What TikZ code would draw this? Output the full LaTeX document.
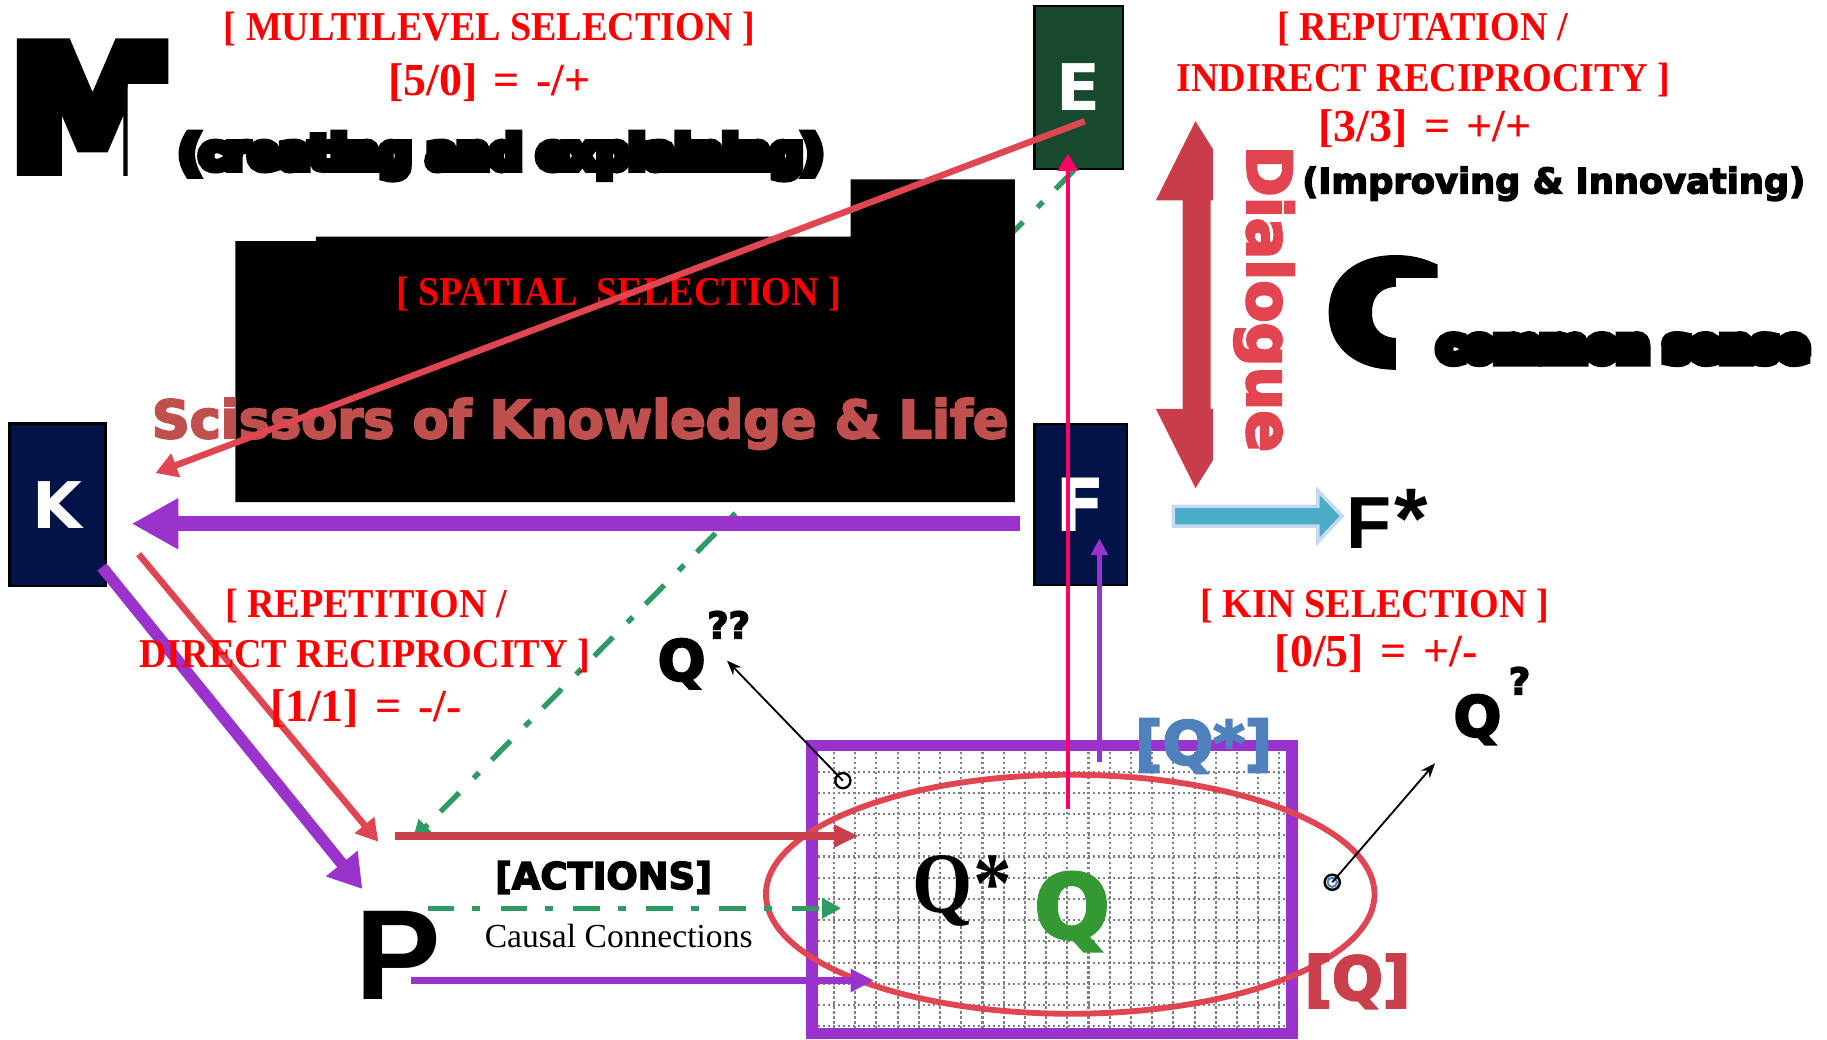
\documentclass[tikz,border=0pt]{standalone}
\usepackage{fontspec}
\usetikzlibrary{arrows.meta,shapes.geometric}
\setmainfont{Liberation Serif}
\newfontfamily\redserif[FakeStretch=0.93]{Liberation Serif}
\newfontfamily\redserifw{Liberation Serif}
\newfontfamily\plainserif{Liberation Serif}
\newfontfamily\qserif[FakeStretch=0.9]{Liberation Serif}
\newfontfamily\dvsans{DejaVu Sans}
\newfontfamily\dvheavy[FakeBold=4]{DejaVu Sans Bold}
\newfontfamily\libsans{Liberation Sans}
\newfontfamily\blobM[FakeBold=9]{DejaVu Sans Bold}
\newfontfamily\blobC[FakeBold=10,FakeStretch=1.15]{DejaVu Sans Bold}
\newfontfamily\blobT[FakeBold=20]{DejaVu Sans Bold}
\newfontfamily\blobS[FakeBold=24]{DejaVu Sans Bold}
\definecolor{txtred}{HTML}{FF0000}
\definecolor{lnred}{HTML}{E04552}
\definecolor{dkred}{HTML}{C9404A}
\definecolor{arrred}{HTML}{C93C4B}
\definecolor{dialred}{HTML}{E24450}
\definecolor{sciss}{HTML}{C0504D}
\definecolor{cpurp}{HTML}{9933CC}
\definecolor{cgrn}{HTML}{2E9A64}
\definecolor{cpink}{HTML}{FF0066}
\definecolor{egreen}{HTML}{17492F}
\definecolor{navyb}{HTML}{021447}
\definecolor{qgreen}{HTML}{339933}
\definecolor{qblue}{HTML}{4F81BD}
\definecolor{cyanf}{HTML}{4BACC6}
\definecolor{cyanb}{HTML}{C6D9F1}
\definecolor{gridc}{HTML}{808080}
\newcommand{\eqsp}{\hspace{0.36em}}
\begin{document}
\begin{tikzpicture}[x=0.01cm,y=-0.01cm,
  lbl/.style={inner sep=0pt, outer sep=0pt, anchor=base},
  redt/.style={lbl, text=txtred, font=\redserif\bfseries\fontsize{10}{12}\selectfont},
  redeq/.style={lbl, text=txtred, font=\redserifw\bfseries\fontsize{11.2}{12}\selectfont},
  letterbox/.style={draw=black, line width=0.6pt, text=white, inner sep=0pt},
  redline/.style={draw=lnred, line width=1.57pt, -{Triangle[length=5.3pt,width=5.9pt]}},
  greendd/.style={draw=cgrn, line width=1.3pt, dash pattern={on 6.5pt off 4.4pt on 1.9pt off 5pt}, -{Triangle[length=4.7pt,width=4.8pt]}},
  thinblack/.style={draw=black, line width=0.45pt, -{Stealth[length=3.6pt,width=2.8pt]}}
]
\useasboundingbox (0,0) rectangle (1568,892);
\fill[white] (0,0) rectangle (1568,892);

% coordinates of connector ends
\coordinate (c1a) at (931,104);   \coordinate (c1b) at (133.4,406);
\coordinate (c2a) at (875,449.5); \coordinate (c2b) at (113,449.5);
\coordinate (c3a) at (87.5,486.6);\coordinate (c3b) at (311,763);
\coordinate (c4a) at (119,475.6); \coordinate (c4b) at (324.7,722.4);
\coordinate (c5a) at (339,717.5); \coordinate (c5b) at (737,717.5);
\coordinate (c6a) at (922,146);   \coordinate (c6b) at (354,721);
\coordinate (c7a) at (367,779.5); \coordinate (c7b) at (722,779.5);
\coordinate (c8a) at (353,841.5); \coordinate (c8b) at (750,841.5);
\coordinate (c9a) at (916.5,694); \coordinate (c9b) at (916.5,131.6);
\coordinate (c10a) at (943.6,653.7); \coordinate (c10b) at (943.6,462);
\coordinate (c11b) at (624,567);
\coordinate (c12b) at (1231.6,655);

% green dash-dot E -> P (behind black panel)
\draw[greendd] (c6a) -- (c6b);

% black panel
\fill[black] (202,207) -- (271,207) -- (271,203) -- (730,203) -- (730,154) -- (871,154) -- (871,431) -- (202,431) -- cycle;

% letter boxes
\node[letterbox, fill=egreen, minimum width=0.76cm, minimum height=1.40cm, font=\dvsans\bfseries\fontsize{15.7}{16}\selectfont] (E) at (926,75) {\raisebox{-1pt}{E}};
\node[letterbox, fill=navyb, minimum width=0.826cm, minimum height=1.394cm, font=\dvsans\bfseries\fontsize{15.7}{16}\selectfont] (K) at (49.3,433.3) {\raisebox{-1pt}{K}};
\node[letterbox, fill=navyb, minimum width=0.79cm, minimum height=1.38cm, font=\dvsans\bfseries\fontsize{17.9}{18}\selectfont] (F) at (927.5,433) {\raisebox{-0.7pt}{F}};

% texts on panel
\node[redt] (spatial) at (531,262) {[ SPATIAL\ \ SELECTION ]};
\node[lbl, text=sciss, font=\dvheavy\fontsize{12.8}{14}\selectfont] (scissors) at (498,376) {Scissors of Knowledge \& Life};

% red E -> K
\draw[redline] (c1a) -- (c1b);

% purple F -> K
\draw[draw=cpurp, line width=3.7pt, -{Triangle[length=11.4pt,width=11.7pt]}] (c2a) -- (c2b);
% K -> P purple and red
\draw[draw=cpurp, line width=2.85pt, -{Triangle[length=8pt,width=9.4pt]}] (c3a) -- (c3b);
\draw[redline] (c4a) -- (c4b);

% grid box
\fill[white] (697,640) rectangle (1108.5,887);
\foreach \k in {0,...,21} {
  \draw[gridc, line width=0.5pt, dash pattern=on 0.5pt off 0.72pt] (715.8+18.2*\k,645) -- (715.8+18.2*\k,882);
}
\foreach \k in {0,...,12} {
  \draw[gridc, line width=0.5pt, dash pattern=on 0.5pt off 0.72pt] (702,662.3+18.2*\k) -- (1103,662.3+18.2*\k);
}
\node[draw=cpurp, line width=2.85pt, minimum width=4.115cm, minimum height=2.47cm, inner sep=0pt] (QB) at (902.75,763.5) {};

% ellipse
\node[ellipse, draw=lnred, line width=1.42pt, minimum width=5.22cm, minimum height=2.05cm, inner sep=0pt] (QE) at (918.5,767.5) {};

% texts in box
\node[lbl, anchor=base west, font=\qserif\bfseries\fontsize{21}{22}\selectfont] (Qstar) at (783.5,783) {Q*};
\node[lbl, text=qgreen, font=\dvheavy\fontsize{21.6}{22}\selectfont] (Qg) at (920,805) {Q};
\node[lbl, text=qblue, font=\dvheavy\fontsize{14.6}{15}\selectfont] (Qsb) at (1033,656) {[Q*]};
\node[lbl, text=dkred, font=\dvheavy\fontsize{14.6}{15}\selectfont] (Qb) at (1165,858) {[Q]};

% P -> box arrows
\draw[draw=dkred, line width=1.8pt, -{Triangle[length=6pt,width=5.2pt]}] (c5a) -- (c5b);
\draw[greendd] (c7a) -- (c7b);
\draw[draw=cpurp, line width=1.57pt, -{Triangle[length=5.7pt,width=5.4pt]}] (c8a) -- (c8b);

% verticals
\draw[draw=cpink, line width=1.14pt, -{Triangle[length=4.3pt,width=4.8pt]}] (c9a) -- (c9b);
\draw[draw=cpurp, line width=1.3pt, -{Triangle[length=4.1pt,width=4pt]}] (c10a) -- (c10b);

% small circles and thin arrows
\node[circle, draw=black, line width=0.57pt, minimum size=0.13cm, inner sep=0pt] (o1) at (723.4,670) {};
\draw[thinblack] (o1.center) -- (c11b);
\node[circle, draw=black, line width=0.6pt, minimum size=0.13cm, inner sep=0pt] (o2) at (1143.4,757.2) {};
\draw[qblue, line width=0.5pt] (o2.center) circle (4);
\draw[thinblack] (o2.center) -- (c12b);

% P, F*, Q labels
\node[lbl, font=\libsans\bfseries\fontsize{31.3}{32}\selectfont] (P) at (342,857.6) {P};
\node[lbl, anchor=base west, font=\libsans\bfseries\fontsize{18}{19}\selectfont] (Fstar) at (1156,470.5) {F\kern0.5pt{\fontsize{21}{22}\selectfont *}};
\node[lbl, font=\dvheavy\fontsize{13.7}{14}\selectfont] (Qq) at (585,584) {Q};
\node[lbl, anchor=base west, font=\dvheavy\fontsize{9}{10}\selectfont] (qq) at (607,548) {??};
\node[lbl, font=\dvheavy\fontsize{13.7}{14}\selectfont] (Q1) at (1268,632) {Q};
\node[lbl, anchor=base west, font=\dvheavy\fontsize{9}{10}\selectfont] (q1) at (1295,596) {?};

% action labels
\node[lbl, font=\dvheavy\fontsize{9}{10}\selectfont] (actions) at (518,763) {[ACTIONS]};
\node[lbl, font=\plainserif\fontsize{8.2}{9}\selectfont] (causal) at (531,813.6) {Causal Connections};

% red headings
\node[redt] (multi1) at (420,34.5) {[ MULTILEVEL SELECTION ]};
\node[redeq] (multi2) at (420,82) {[5/0]\eqsp=\eqsp-/+};
\node[redt] (rep1) at (1221,34.5) {[ REPUTATION /};
\node[redt] (rep2) at (1221.5,78.7) {INDIRECT RECIPROCITY ]};
\node[redeq] (rep3) at (1223,121.6) {[3/3]\eqsp=\eqsp+/+};
\node[redt] (dir1) at (314,530) {[ REPETITION /};
\node[redt] (dir2) at (313,573) {DIRECT RECIPROCITY ]};
\node[redeq] (dir3) at (314,619) {[1/1]\eqsp=\eqsp-/-};
\node[redt] (kin1) at (1180,530) {[ KIN SELECTION ]};
\node[redeq] (kin2) at (1181,572) {[0/5]\eqsp=\eqsp+/-};

\node[lbl, font=\dvheavy\fontsize{8.6}{9}\selectfont] (improv) at (1333.5,166) {(Improving \& Innovating)};

% Dialogue double arrow
\fill[arrred] (1026,104) -- (1041,128) -- (1041,172) -- (1039,172) -- (1039,351) -- (1041,351) -- (1041,395) -- (1026,419) -- (992,351) -- (1015,351) -- (1015,172) -- (992,172) -- cycle;
\node[lbl, rotate=-90, text=dialred, font=\dvheavy\fontsize{15}{16}\selectfont] (dialogue) at (1070.5,256.5) {Dialogue};

% F -> F* block arrow
\filldraw[fill=cyanf, draw=cyanb, line width=0.85pt] (1007,434.5) -- (1131,434.5) -- (1131,421) -- (1152,443) -- (1131,465) -- (1131,451.5) -- (1007,451.5) -- cycle;

% blob letters
\begin{scope}
\clip (0,0) -- (155,0) -- (155,72) -- (109.6,72) -- (109.6,170) -- (0,170) -- cycle;
\node[lbl, font=\blobM\fontsize{41}{42}\selectfont] (M) at (79.5,144.5) {M};
\end{scope}
\node[lbl, font=\blobT\fontsize{11}{12}\selectfont] (creating) at (430,144.5) {(creating and explaining)};
\begin{scope}
\clip (1120,195) -- (1250,195) -- (1250,238.6) -- (1198,238.6) -- (1198,335) -- (1120,335) -- cycle;
\node[lbl, font=\blobC\fontsize{32.7}{33}\selectfont] (C) at (1188,310) {C};
\end{scope}
\node[lbl, font=\blobS\fontsize{10.8}{11}\selectfont] (common) at (1393,310) {common sense};
\end{tikzpicture}
\end{document}
